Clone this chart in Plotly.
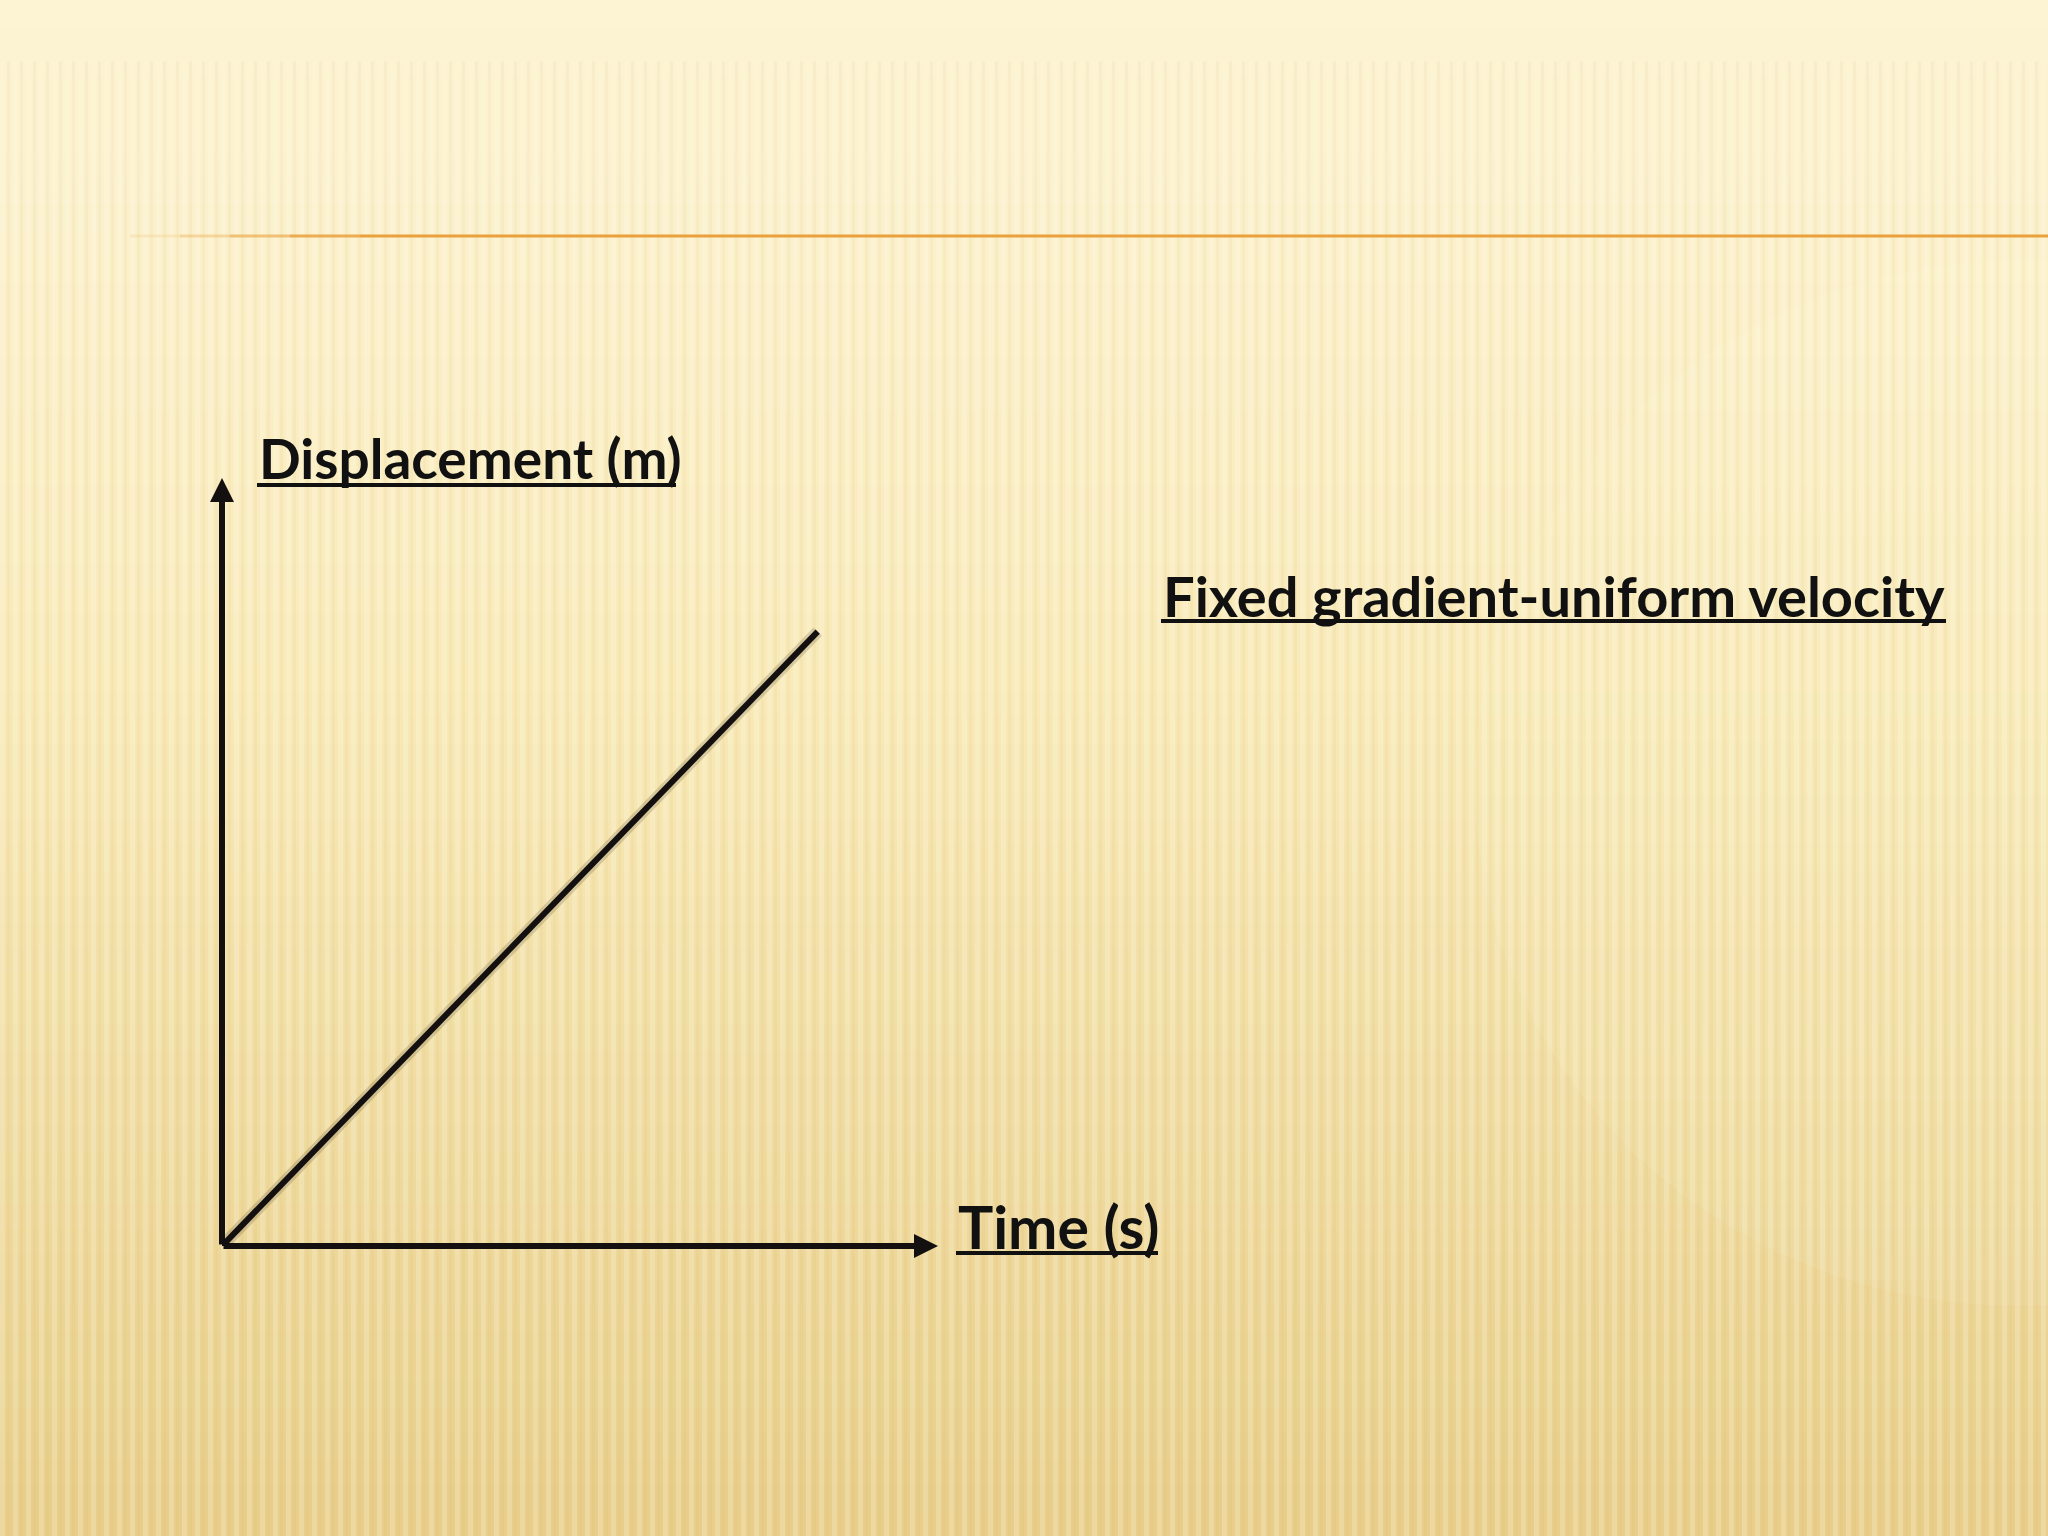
import plotly.graph_objects as go

# ---- data ----
time_s = [0, 8.32]
displacement_m = [0, 8.0]
x_axis_label = "Time (s)"
y_axis_label = "Displacement (m)"
note_text = "Fixed gradient-uniform velocity"

W, H = 2048, 1536
FONT = "Comic Sans MS, Lato, Open Sans, sans-serif"

fig = go.Figure()

# shadow of the line
fig.add_trace(go.Scatter(x=time_s, y=displacement_m, mode="lines",
                         line=dict(color="rgba(60,50,20,0.18)", width=12),
                         hoverinfo="skip", showlegend=False))
fig.add_trace(go.Scatter(x=time_s, y=displacement_m, mode="lines",
                         line=dict(color="#141010", width=6),
                         hoverinfo="skip", showlegend=False))

shapes = []
# background gradient bands
top = (253, 244, 214)
mid = (249, 234, 184)
bot = (232, 206, 138)
nb = 60
for i in range(nb):
    t = i / (nb - 1)
    if t < 0.45:
        u = t / 0.45
        c = tuple(int(top[k] + (mid[k] - top[k]) * u) for k in range(3))
    else:
        u = (t - 0.45) / 0.55
        c = tuple(int(mid[k] + (bot[k] - mid[k]) * u) for k in range(3))
    y1 = 1 - i / nb
    y0 = 1 - (i + 1) / nb - 0.002
    shapes.append(dict(type="rect", xref="paper", yref="paper", x0=0, x1=1,
                       y0=max(y0, 0), y1=y1, line=dict(width=0),
                       fillcolor=f"rgb{c}", layer="below"))
# light highlight at right
shapes.append(dict(type="circle", xref="paper", yref="paper",
                   x0=0.72, x1=1.25, y0=0.15, y1=0.83, line=dict(width=0),
                   fillcolor="rgba(255,250,225,0.09)", layer="below"))
# vertical stripes texture
period = 13
xp = 0
while xp < W:
    shapes.append(dict(type="rect", xref="paper", yref="paper",
                       x0=xp / W, x1=(xp + 5) / W, y0=0, y1=0.96,
                       line=dict(width=0),
                       fillcolor="rgba(255,255,240,0.22)", layer="below"))
    shapes.append(dict(type="rect", xref="paper", yref="paper",
                       x0=(xp + 7) / W, x1=(xp + 10) / W, y0=0, y1=0.96,
                       line=dict(width=0),
                       fillcolor="rgba(200,170,90,0.07)", layer="below"))
    xp += period
# soft fade of the stripes toward the top
fade_steps = 10
for i in range(fade_steps):
    y0 = 0.86 + i * 0.01
    shapes.append(dict(type="rect", xref="paper", yref="paper", x0=0, x1=1,
                       y0=y0, y1=1, line=dict(width=0),
                       fillcolor="rgba(253,244,214,0.09)", layer="below"))

# orange rule with faded left end
yr = 1 - 236 / H
segs = [(130, 180, 0.15), (180, 230, 0.35), (230, 290, 0.6), (290, 360, 0.85), (360, W, 1.0)]
for a, b, op in segs:
    shapes.append(dict(type="line", xref="paper", yref="paper",
                       x0=a / W, x1=b / W, y0=yr, y1=yr,
                       line=dict(color=f"rgba(234,160,60,{op})", width=3)))

# text underlines
def underline(x0, x1, ypix):
    shapes.append(dict(type="line", xref="paper", yref="paper",
                       x0=x0 / W, x1=x1 / W, y0=1 - ypix / H, y1=1 - ypix / H,
                       line=dict(color="#111", width=4)))

underline(257, 676, 485)
underline(956, 1158, 1253)
underline(1161, 1946, 621)

annotations = [
    # axis arrows
    dict(x=10, y=0, ax=0, ay=0, xref="x", yref="y", axref="x", ayref="y",
         showarrow=True, arrowhead=2, arrowsize=0.8, arrowwidth=6,
         arrowcolor="#141010", text=""),
    dict(x=0, y=10, ax=0, ay=0, xref="x", yref="y", axref="x", ayref="y",
         showarrow=True, arrowhead=2, arrowsize=0.8, arrowwidth=6,
         arrowcolor="#141010", text=""),
    dict(x=257 / W, y=1 - 458 / H, xref="paper", yref="paper",
         xanchor="left", yanchor="middle", showarrow=False,
         text=f"<b>{y_axis_label}</b>",
         font=dict(family=FONT, size=55, color="#111")),
    dict(x=956 / W, y=1 - 1226 / H, xref="paper", yref="paper",
         xanchor="left", yanchor="middle", showarrow=False,
         text=f"<b>{x_axis_label}</b>",
         font=dict(family=FONT, size=59, color="#111")),
    dict(x=1161 / W, y=1 - 596 / H, xref="paper", yref="paper",
         xanchor="left", yanchor="middle", showarrow=False,
         text=f"<b>{note_text}</b>",
         font=dict(family=FONT, size=56, color="#111")),
]

fig.update_layout(
    width=W, height=H,
    margin=dict(l=0, r=0, t=0, b=0),
    paper_bgcolor="rgb(245,230,180)",
    plot_bgcolor="rgba(0,0,0,0)",
    shapes=shapes,
    annotations=annotations,
    showlegend=False,
    xaxis=dict(domain=[222 / W, 938 / W], range=[0, 10], visible=False,
               fixedrange=True),
    yaxis=dict(domain=[1 - 1246 / H, 1 - 478 / H], range=[0, 10], visible=False,
               fixedrange=True),
)

fig.write_html("out.html",
               config={"displayModeBar": False},
               post_script="document.body.style.margin='0';"
                           "document.body.style.overflow='hidden';")
